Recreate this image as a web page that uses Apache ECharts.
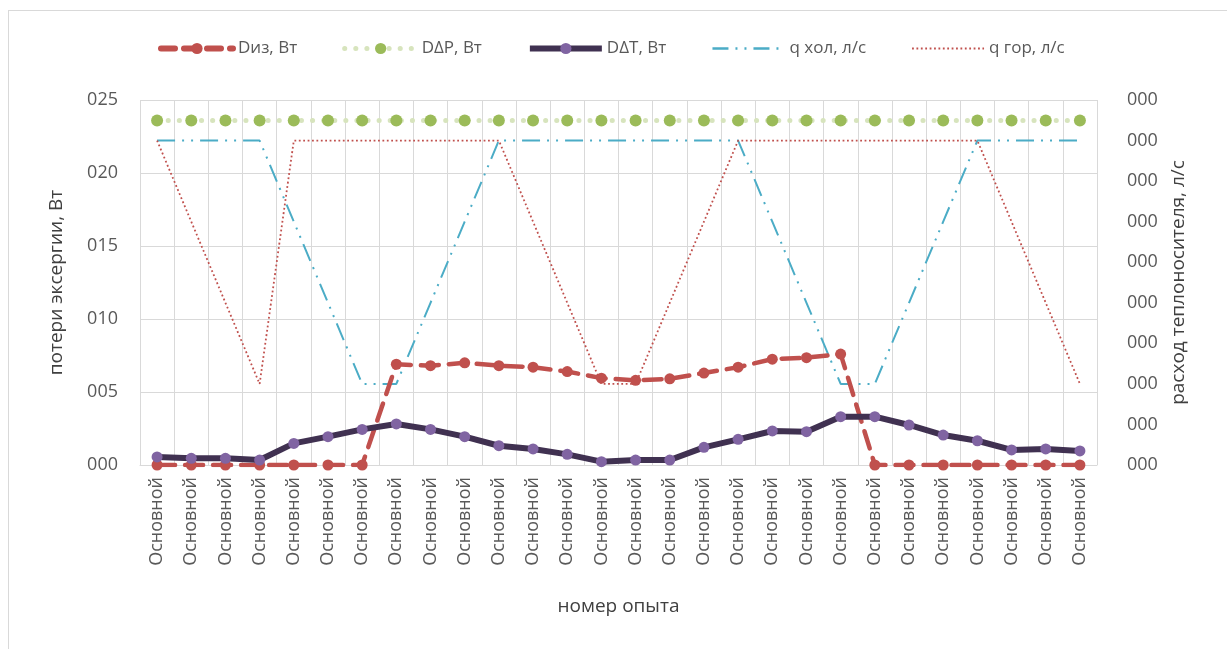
<!DOCTYPE html>
<html>
<head>
<meta charset="utf-8">
<script src="https://cdn.jsdelivr.net/npm/echarts@6/dist/echarts.min.js"></script>
<style>
html,body{margin:0;padding:0;background:#fff;overflow:hidden;}
#frame{position:absolute;left:8px;top:10px;width:1300px;height:700px;border:1px solid #d9d9d9;box-sizing:border-box;}
#chart{position:absolute;left:0;top:0;width:1227px;height:649px;}
</style>
</head>
<body>
<div id="frame"></div>
<div id="chart"></div>
<script>
const categories = Array(28).fill('Основной');
const dIz   = [0,0,0,0,0,0,0,6.9,6.8,7.0,6.8,6.7,6.4,5.95,5.8,5.9,6.3,6.7,7.25,7.35,7.6,0,0,0,0,0,0,0];
const dDP   = Array(28).fill(23.6);
const dDT   = [0.55,0.46,0.46,0.34,1.48,1.94,2.44,2.81,2.44,1.94,1.32,1.1,0.73,0.23,0.34,0.34,1.21,1.76,2.33,2.28,3.31,3.31,2.74,2.05,1.66,1.03,1.1,0.96];
const qHol  = [0.08,0.08,0.08,0.08,0.06,0.04,0.02,0.02,0.04,0.06,0.08,0.08,0.08,0.08,0.08,0.08,0.08,0.08,0.06,0.04,0.02,0.02,0.04,0.06,0.08,0.08,0.08,0.08];
const qGor  = [0.08,0.06,0.04,0.02,0.08,0.08,0.08,0.08,0.08,0.08,0.08,0.06,0.04,0.02,0.02,0.04,0.06,0.08,0.08,0.08,0.08,0.08,0.08,0.08,0.08,0.06,0.04,0.02];
const leftTicks = {min:0, max:25, interval:5};
const rightTicks = {min:0, max:0.09, interval:0.01};

const FONT = 'Open Sans';
const pad3 = v => String(Math.round(v)).padStart(3,'0');
const chart = echarts.init(document.getElementById('chart'), null, {renderer:'canvas'});
chart.setOption({
  animation:false,
  textStyle:{fontFamily:FONT},
  legend:{
    top:35, left:153, itemWidth:72, itemHeight:14, itemGap:45,
    textStyle:{fontSize:17, color:'#595959', fontFamily:FONT},
    data:[
      {name:'Dиз, Вт', lineStyle:{width:6, type:[14,9], cap:'round'}},
      {name:'DΔP, Вт', lineStyle:{width:5, type:[0.1,11], cap:'round'}},
      {name:'DΔT, Вт', lineStyle:{width:6}},
      {name:'q хол, л/с', itemStyle:{opacity:0}, lineStyle:{width:2.5, type:[16,7,2,7,2,7]}},
      {name:'q гор, л/с', itemStyle:{opacity:0}, lineStyle:{width:2, type:[1.8,2.6]}}
    ]
  },
  grid:{left:140, right:130, top:100, bottom:184, containLabel:false},
  xAxis:{
    type:'category', data:categories, boundaryGap:true,
    name:'номер опыта', nameLocation:'middle', nameGap:132,
    nameTextStyle:{fontSize:19, color:'#404040', fontFamily:FONT},
    axisLine:{show:true, lineStyle:{color:'#d9d9d9', width:1}},
    axisTick:{show:false},
    splitLine:{show:true, lineStyle:{color:'#d9d9d9', width:1}},
    axisLabel:{rotate:90, fontSize:18, color:'#595959', margin:12, interval:0, fontFamily:FONT}
  },
  yAxis:[{
    type:'value', min:leftTicks.min, max:leftTicks.max, interval:leftTicks.interval,
    name:'потери эксергии, Вт', nameLocation:'middle', nameGap:74, nameRotate:90,
    nameTextStyle:{fontSize:19, color:'#404040', fontFamily:FONT},
    axisLine:{show:false}, axisTick:{show:false},
    splitLine:{show:true, lineStyle:{color:'#d9d9d9', width:1}},
    axisLabel:{formatter:pad3, fontSize:18, color:'#595959', margin:22, fontFamily:FONT}
  },{
    type:'value', min:rightTicks.min, max:rightTicks.max, interval:rightTicks.interval,
    name:'расход теплоносителя, л/с', nameLocation:'middle', nameGap:72, nameRotate:90,
    nameTextStyle:{fontSize:19, color:'#404040', fontFamily:FONT},
    axisLine:{show:false}, axisTick:{show:false}, splitLine:{show:false},
    axisLabel:{formatter:v=>pad3(v), fontSize:18, color:'#595959', margin:30, fontFamily:FONT}
  }],
  series:[
    {name:'Dиз, Вт', type:'line', data:dIz, yAxisIndex:0, symbol:'circle', symbolSize:11,
     itemStyle:{color:'#c0504d'},
     lineStyle:{color:'#c0504d', width:4.5, type:[18,10], cap:'round'}, z:3},
    {name:'DΔP, Вт', type:'line', data:dDP, yAxisIndex:0, symbol:'circle', symbolSize:12,
     itemStyle:{color:'#9bbb59'},
     lineStyle:{color:'#d7e4bd', width:5, type:[0.1,11], cap:'round'}, z:2},
    {name:'DΔT, Вт', type:'line', data:dDT, yAxisIndex:0, symbol:'circle', symbolSize:11,
     itemStyle:{color:'#8064a2'},
     lineStyle:{color:'#403151', width:6}, z:4},
    {name:'q хол, л/с', type:'line', data:qHol, yAxisIndex:1, symbol:'none',
     itemStyle:{color:'#4bacc6'},
     lineStyle:{color:'#4bacc6', width:2, type:[18,7,2,7,2,7]}, z:2},
    {name:'q гор, л/с', type:'line', data:qGor, yAxisIndex:1, symbol:'none',
     itemStyle:{color:'#c0504d'},
     lineStyle:{color:'#c0504d', width:1.8, type:[1.8,2.6]}, z:2}
  ]
});
</script>
</body>
</html>
